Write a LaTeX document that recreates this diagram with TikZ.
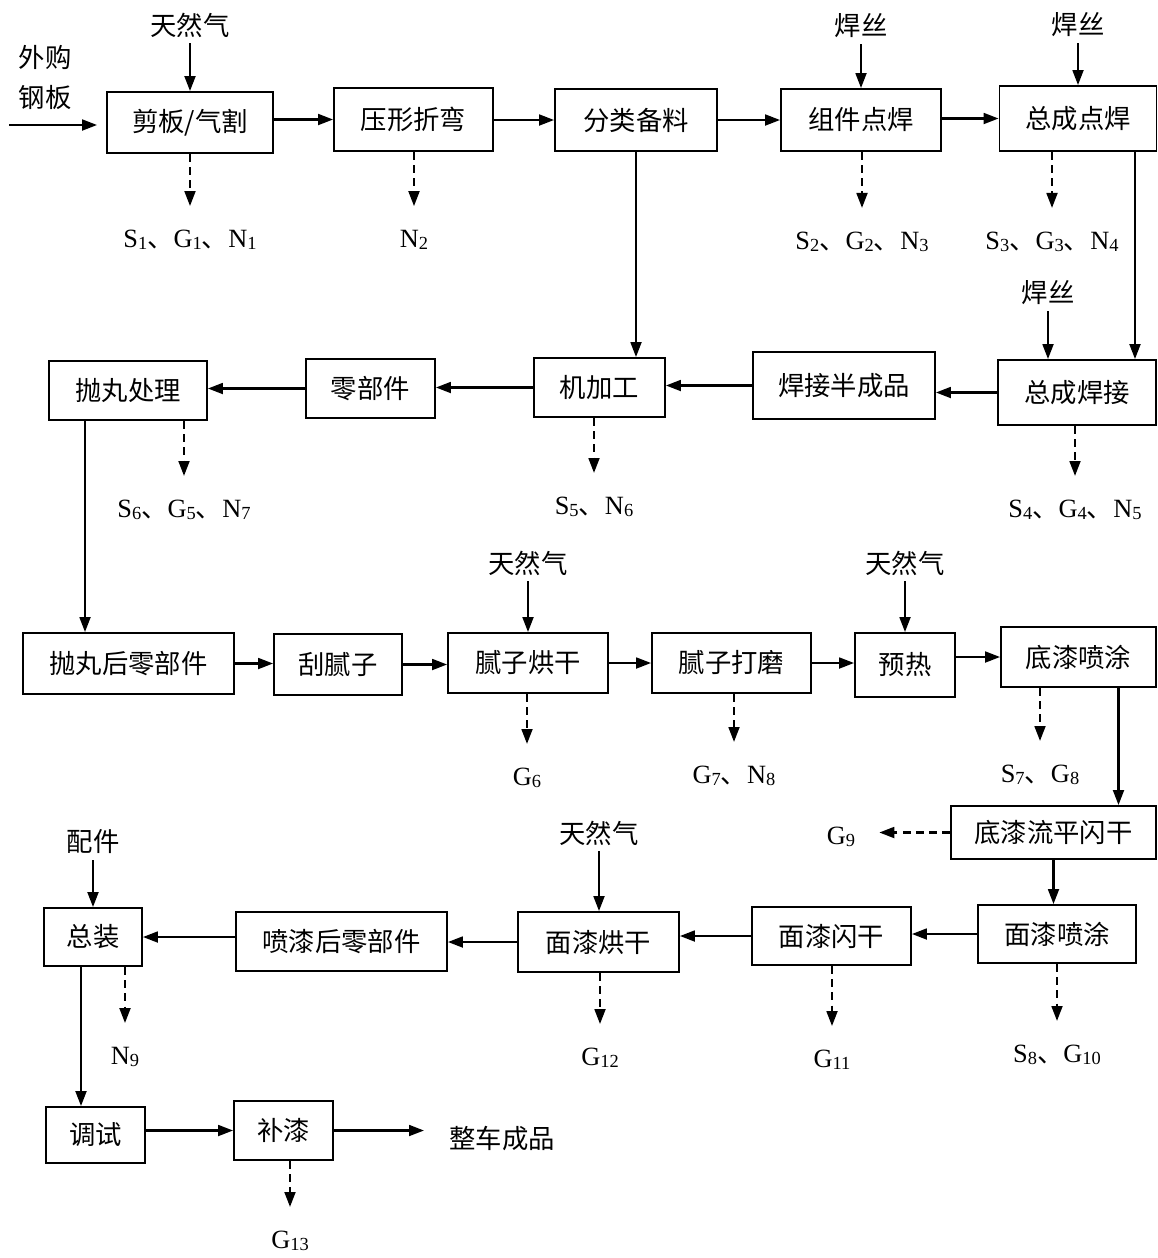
\documentclass[tikz,border=0pt]{standalone}
\usepackage{fontspec}
\setmainfont{Liberation Serif}
\newfontfamily\hei{Noto Sans CJK SC}
\usetikzlibrary{arrows.meta}
\newcommand{\lo}[1]{\raisebox{-1.2pt}{\fontsize{10.5}{11}\selectfont #1}}
\newcommand{\dun}{{\hei 、}}

\begin{document}
\begin{tikzpicture}[x=0.02cm, y=-0.02cm, >={Triangle[length=8.5pt,width=6.2pt]},
    proc/.style 2 args={draw, line width=1.1pt, minimum width=#1cm, minimum height=#2cm, inner sep=0pt, font=\hei\fontsize{15}{18}\selectfont},
    word/.style={font=\hei\fontsize{15}{18}\selectfont},
    emit/.style={font=\fontsize{15}{18}\selectfont},
    flow/.style={->, line width=1.2pt},
    drain/.style={->, line width=1.2pt, dash pattern=on 4.5pt off 3pt, shorten >=0.36cm}]
    \useasboundingbox (0,0) rectangle (1158,1258);

    % process boxes
    \node[proc={3.32}{1.22}] (cut) at (190,122.5) {剪板/气割};
    \node[proc={3.18}{1.26}] (press) at (413.5,119.5) {压形折弯};
    \node[proc={3.24}{1.24}] (sort) at (636,120) {分类备料};
    \node[proc={3.2}{1.24}] (spot) at (861,120) {组件点焊};
    \node[proc={3.14}{1.3}] (asspot) at (1078,118.5) {总成点焊};

    \node[proc={3.16}{1.18}] (blast) at (128,390.5) {抛丸处理};
    \node[proc={2.58}{1.18}] (parts) at (370.5,388.5) {零部件};
    \node[proc={2.62}{1.18}] (mach) at (599.5,387.5) {机加工};
    \node[proc={3.64}{1.34}] (semi) at (844,385.5) {焊接半成品};
    \node[proc={3.16}{1.3}] (weld) at (1077,392.5) {总成焊接};

    \node[proc={4.22}{1.22}] (blasted) at (128.5,663.5) {抛丸后零部件};
    \node[proc={2.56}{1.22}] (putty) at (338,664.5) {刮腻子};
    \node[proc={3.2}{1.2}] (pdry) at (528,663) {腻子烘干};
    \node[proc={3.18}{1.2}] (psand) at (731.5,663) {腻子打磨};
    \node[proc={2.0}{1.28}] (heat) at (905,665) {预热};
    \node[proc={3.1}{1.2}] (primer) at (1078.5,657) {底漆喷涂};

    \node[proc={4.1}{1.06}] (flash) at (1053.5,832.5) {底漆流平闪干};
    \node[proc={3.16}{1.16}] (topspray) at (1057,934) {面漆喷涂};
    \node[proc={3.18}{1.16}] (topflash) at (831.5,936) {面漆闪干};
    \node[proc={3.22}{1.2}] (topdry) at (598.5,942) {面漆烘干};
    \node[proc={4.22}{1.18}] (painted) at (341.5,941.5) {喷漆后零部件};
    \node[proc={1.96}{1.16}] (asm) at (93,937) {总装};

    \node[proc={1.98}{1.12}] (test) at (95.5,1135) {调试};
    \node[proc={1.98}{1.18}] (touch) at (283.5,1130.5) {补漆};
    \node[word, inner sep=0pt] (car) at (502,1138) {整车成品};

    % inputs
    \node[word, align=center, font=\hei\fontsize{15}{23}\selectfont] (buy) at (45,77.5) {外购\\钢板};
    \coordinate (src) at (9,125);
    \node[word] (gas1) at (190,25) {天然气};
    \node[word] (wire1) at (861,26) {焊丝};
    \node[word] (wire2) at (1078,25) {焊丝};
    \node[word] (wire3) at (1048,293) {焊丝};
    \node[word] (gas2) at (528,563) {天然气};
    \node[word] (gas3) at (905,563) {天然气};
    \node[word] (gas4) at (599,833) {天然气};
    \node[word] (fit) at (93,842) {配件};

    % emissions
    \node[emit] (e1) at (190,240) {S\lo{1}\dun G\lo{1}\dun N\lo{1}};
    \node[emit] (e2) at (414,240) {N\lo{2}};
    \node[emit] (e3) at (862,242) {S\lo{2}\dun G\lo{2}\dun N\lo{3}};
    \node[emit] (e4) at (1052,242) {S\lo{3}\dun G\lo{3}\dun N\lo{4}};
    \node[emit] (e5) at (184,510) {S\lo{6}\dun G\lo{5}\dun N\lo{7}};
    \node[emit] (e6) at (594,507) {S\lo{5}\dun N\lo{6}};
    \node[emit] (e7) at (1075,510) {S\lo{4}\dun G\lo{4}\dun N\lo{5}};
    \node[emit] (e8) at (527,778) {G\lo{6}};
    \node[emit] (e9) at (734,776) {G\lo{7}\dun N\lo{8}};
    \node[emit] (e10) at (1040,775) {S\lo{7}\dun G\lo{8}};
    \node[emit] (e11) at (841,837) {G\lo{9}};
    \node[emit] (e12) at (600,1058) {G\lo{12}};
    \node[emit] (e13) at (832,1060) {G\lo{11}};
    \node[emit] (e14) at (1057,1055) {S\lo{8}\dun G\lo{10}};
    \node[emit] (e15) at (125,1057) {N\lo{9}};
    \node[emit] (e16) at (290,1241) {G\lo{13}};

    % main flow
    \draw[flow, shorten >=0.18cm] (src) -- (src -| cut.west);
    \draw[flow] (cut.east |- press.west) -- (press.west);
    \draw[flow] (press.east |- sort.west) -- (sort.west);
    \draw[flow] (sort.east |- spot.west) -- (spot.west);
    \draw[flow] (spot.east |- asspot.west) -- (asspot.west);
    \draw[flow] (sort.south) -- (sort.south |- mach.north);
    \draw[flow] ([xshift=1.14cm]asspot.south) -- ([xshift=1.14cm]asspot.south |- weld.north);

    \draw[flow] (weld.west) -- (weld.west -| semi.east);
    \draw[flow] (semi.west) -- (semi.west -| mach.east);
    \draw[flow] (mach.west) -- (mach.west -| parts.east);
    \draw[flow] (parts.west) -- (parts.west -| blast.east);
    \draw[flow] ([xshift=-0.86cm]blast.south) -- ([xshift=-0.86cm]blast.south |- blasted.north);

    \draw[flow] (blasted.east) -- (blasted.east -| putty.west);
    \draw[flow] (putty.east) -- (putty.east -| pdry.west);
    \draw[flow] (pdry.east) -- (pdry.east -| psand.west);
    \draw[flow] (psand.east) -- (psand.east -| heat.west);
    \draw[flow] (heat.east |- primer.west) -- (primer.west);
    \draw[flow] ([xshift=0.8cm]primer.south) -- ([xshift=0.8cm]primer.south |- flash.north);

    \draw[flow] (flash.south) -- (flash.south |- topspray.north);
    \draw[flow] (topspray.west) -- (topspray.west -| topflash.east);
    \draw[flow] (topflash.west) -- (topflash.west -| topdry.east);
    \draw[flow] (topdry.west) -- (topdry.west -| painted.east);
    \draw[flow] (painted.west |- asm.east) -- (asm.east);
    \draw[flow] ([xshift=-0.24cm]asm.south) -- ([xshift=-0.24cm]asm.south |- test.north);

    \draw[flow] (test.east |- touch.west) -- (touch.west);
    \draw[flow, shorten >=0.5cm] (touch.east) -- (touch.east -| car.west);

    % material inputs
    \draw[flow] (gas1.south) -- (gas1.south |- cut.north);
    \draw[flow] (wire1.south) -- (wire1.south |- spot.north);
    \draw[flow] (wire2.south) -- (wire2.south |- asspot.north);
    \draw[flow] (wire3.south) -- (wire3.south |- weld.north);
    \draw[flow] (gas2.south) -- (gas2.south |- pdry.north);
    \draw[flow] (gas3.south) -- (gas3.south |- heat.north);
    \draw[flow] (gas4.south) -- (gas4.south |- topdry.north);
    \draw[flow] (fit.south) -- (fit.south |- asm.north);

    % pollutant outputs
    \draw[drain] (cut.south -| e1.north) -- (e1.north);
    \draw[drain] (press.south -| e2.north) -- (e2.north);
    \draw[drain] (spot.south -| e3.north) -- (e3.north);
    \draw[drain] (asspot.south -| e4.north) -- (e4.north);
    \draw[drain] (blast.south -| e5.north) -- (e5.north);
    \draw[drain] (mach.south -| e6.north) -- (e6.north);
    \draw[drain] (weld.south -| e7.north) -- (e7.north);
    \draw[drain] (pdry.south -| e8.north) -- (e8.north);
    \draw[drain] (psand.south -| e9.north) -- (e9.north);
    \draw[drain] (primer.south -| e10.north) -- (e10.north);
    \draw[drain] (flash.west) -- (flash.west -| e11.east);
    \draw[drain] (topdry.south -| e12.north) -- (e12.north);
    \draw[drain] (topflash.south -| e13.north) -- (e13.north);
    \draw[drain] (topspray.south -| e14.north) -- (e14.north);
    \draw[drain] (asm.south -| e15.north) -- (e15.north);
    \draw[drain] (touch.south -| e16.north) -- (e16.north);
\end{tikzpicture}
\end{document}
